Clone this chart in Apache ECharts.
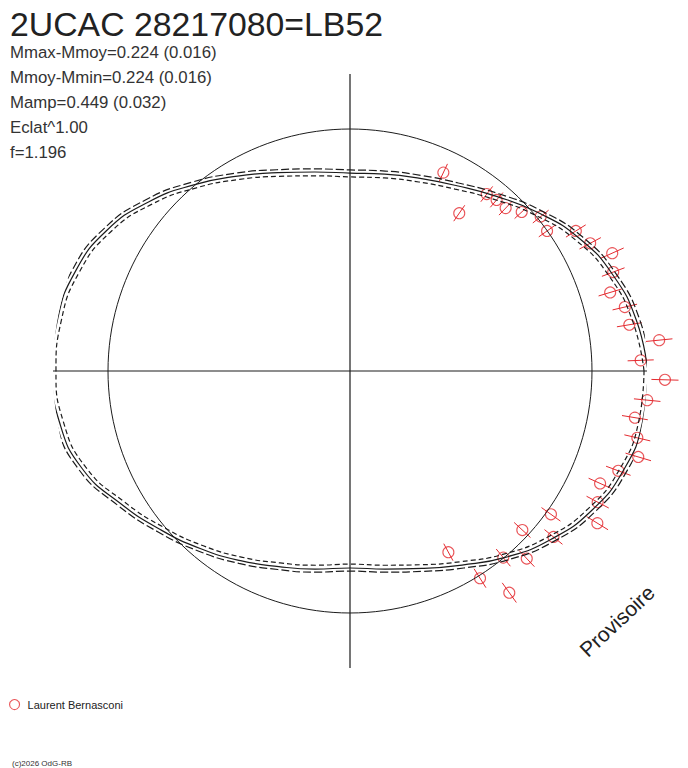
<!DOCTYPE html>
<html>
<head>
<meta charset="utf-8">
<script src="https://cdn.jsdelivr.net/npm/echarts@6/dist/echarts.min.js"></script>
<style>
html,body{margin:0;padding:0;background:#ffffff;}
#chart{width:688px;height:768px;}
</style>
</head>
<body>
<div id="chart"></div>
<script>
// ---- Data (relative flux, 1 = mean level; angle = phase in degrees) ----
const titleText = '2UCAC 28217080=LB52';
const infoLines = ['Mmax-Mmoy=0.224 (0.016)', 'Mmoy-Mmin=0.224 (0.016)', 'Mamp=0.449 (0.032)', 'Eclat^1.00', 'f=1.196'];
const observerName = 'Laurent Bernasconi';
const copyrightText = '(c)2026 OdG-RB';
const watermarkText = 'Provisoire';

const curveAngles = [0,10,20,30,40,50,60,70,80,90,100,110,120,130,140,150,160,170,180,190,200,210,220,230,240,250,260,270,280,290,300,310,320,330,340,350,360];
const fitFlux   = [1.231,1.202,1.157,1.095,1.017,0.942,0.884,0.847,0.826,0.818,0.835,0.872,0.930,1.004,1.087,1.161,1.207,1.227,1.231,1.219,1.178,1.095,1.021,0.959,0.905,0.860,0.831,0.814,0.831,0.868,0.926,1.004,1.083,1.153,1.202,1.227,1.231];
const fitUpper  = [1.245,1.216,1.171,1.109,1.031,0.956,0.897,0.860,0.839,0.831,0.848,0.885,0.944,1.018,1.101,1.175,1.221,1.241,1.245,1.233,1.192,1.109,1.035,0.972,0.918,0.873,0.844,0.827,0.844,0.881,0.940,1.018,1.097,1.167,1.216,1.241,1.245];
const fitLower  = [1.215,1.186,1.141,1.079,1.001,0.926,0.868,0.831,0.810,0.802,0.819,0.856,0.914,0.988,1.071,1.145,1.191,1.211,1.215,1.203,1.162,1.079,1.005,0.943,0.889,0.844,0.815,0.798,0.815,0.852,0.910,0.988,1.067,1.137,1.186,1.211,1.215];
const meanFlux = 1.0;
const axisMaxFlux = 1.2273;

const obsAngle = [64.8,55.3,52.3,49.4,46.3,42.8,39.0,35.4,31.8,28.0,24.2,20.6,16.8,13.1,9.4,5.7,2.1,358.4,354.4,350.7,346.9,343.4,339.6,335.8,332.1,328.4,324.5,320.8,317.3,313.3,309.4,305.7,302.1,298.5];
const obsFlux  = [0.906,0.793,0.924,0.931,0.931,0.967,1.014,0.999,1.098,1.124,1.188,1.162,1.123,1.166,1.170,1.284,1.202,1.302,1.234,1.193,1.219,1.243,1.183,1.133,1.158,1.200,1.020,1.085,0.969,1.065,0.998,1.128,1.011,0.852];
const obsErr   = [0.040,0.040,0.040,0.040,0.040,0.040,0.042,0.042,0.048,0.050,0.052,0.050,0.050,0.052,0.052,0.055,0.054,0.056,0.055,0.054,0.055,0.055,0.054,0.052,0.052,0.052,0.048,0.048,0.046,0.046,0.046,0.050,0.046,0.040];

// ---- Chart ----
const RED = '#e42a2f';
const INK = '#1c1c1c';
const FONT = '"Liberation Sans", Arial, sans-serif';

const chart = echarts.init(document.getElementById('chart'), null, {renderer: 'svg'});

const fitData = curveAngles.map((a, i) => [fitFlux[i], a]);
const upData = curveAngles.map((a, i) => [fitUpper[i], a]);
const lowData = curveAngles.map((a, i) => [fitLower[i], a]);
const meanData = [];
for (let a = 0; a <= 360; a += 2) meanData.push([meanFlux, a]);
const obsData = obsAngle.map((a, i) => [obsFlux[i], a, obsErr[i]]);

const graphics = [
  {type: 'text', x: 10, y: 23.5, style: {text: titleText, font: '33.8px ' + FONT, fill: '#222', align: 'left', verticalAlign: 'middle'}}
];
infoLines.forEach((t, i) => {
  graphics.push({type: 'text', x: 10, y: 52.5 + 25 * i, style: {text: t, font: '16.8px ' + FONT, fill: '#333', align: 'left', verticalAlign: 'middle'}});
});
graphics.push({type: 'text', x: 12, y: 763, style: {text: copyrightText, font: '8px ' + FONT, fill: '#333', align: 'left', verticalAlign: 'middle'}});
graphics.push({type: 'text', x: 617, y: 621, rotation: 43 * Math.PI / 180, style: {text: watermarkText, font: '21px ' + FONT, fill: '#222', align: 'center', verticalAlign: 'middle'}});

chart.setOption({
  animation: false,
  backgroundColor: '#ffffff',
  polar: {center: [350, 371], radius: 297},
  angleAxis: {
    type: 'value', min: 0, max: 360, interval: 90, startAngle: 0, clockwise: false,
    axisLine: {show: false}, axisTick: {show: false}, axisLabel: {show: false},
    splitLine: {show: true, lineStyle: {color: INK, width: 1.2}}, splitArea: {show: false}
  },
  radiusAxis: {
    type: 'value', min: 0, max: axisMaxFlux,
    axisLine: {show: false}, axisTick: {show: false}, axisLabel: {show: false},
    splitLine: {show: false}, splitArea: {show: false}
  },
  legend: {
    left: 9, top: 699, padding: 0, itemWidth: 10, itemHeight: 10, selectedMode: false,
    data: [{name: observerName, icon: 'circle', itemStyle: {color: 'rgba(0,0,0,0)', borderColor: RED, borderWidth: 1.1}}],
    textStyle: {fontSize: 11, color: '#222', fontFamily: FONT, padding: [0, 0, 0, 3]}
  },
  graphic: graphics,
  series: [
    {name: 'mean', type: 'line', coordinateSystem: 'polar', data: meanData, showSymbol: false, silent: true, clip: false,
     lineStyle: {color: INK, width: 1}},
    {name: 'fit', type: 'line', coordinateSystem: 'polar', data: fitData, smooth: 0.5, showSymbol: false, silent: true, clip: false,
     lineStyle: {color: INK, width: 1.2}},
    {name: 'fitUpper', type: 'line', coordinateSystem: 'polar', data: upData, smooth: 0.5, showSymbol: false, silent: true, clip: false,
     lineStyle: {color: INK, width: 1.2, type: [8, 3]}},
    {name: 'fitLower', type: 'line', coordinateSystem: 'polar', data: lowData, smooth: 0.5, showSymbol: false, silent: true, clip: false,
     lineStyle: {color: INK, width: 1.2, type: [5, 3]}},
    {name: 'errors', type: 'custom', coordinateSystem: 'polar', data: obsData, silent: true,
     renderItem: function (params, api) {
       const r = api.value(0), a = api.value(1), e = api.value(2);
       const p1 = api.coord([r - e, a]);
       const p2 = api.coord([r + e, a]);
       return {type: 'line', shape: {x1: p1[0], y1: p1[1], x2: p2[0], y2: p2[1]}, style: {stroke: RED, lineWidth: 1, fill: null}};
     }},
    {name: observerName, type: 'scatter', coordinateSystem: 'polar', data: obsData.map(d => [d[0], d[1]]),
     symbol: 'circle', symbolSize: 11, clip: false, silent: true,
     itemStyle: {color: 'rgba(0,0,0,0)', borderColor: RED, borderWidth: 1.1}}
  ]
});
</script>
</body>
</html>
